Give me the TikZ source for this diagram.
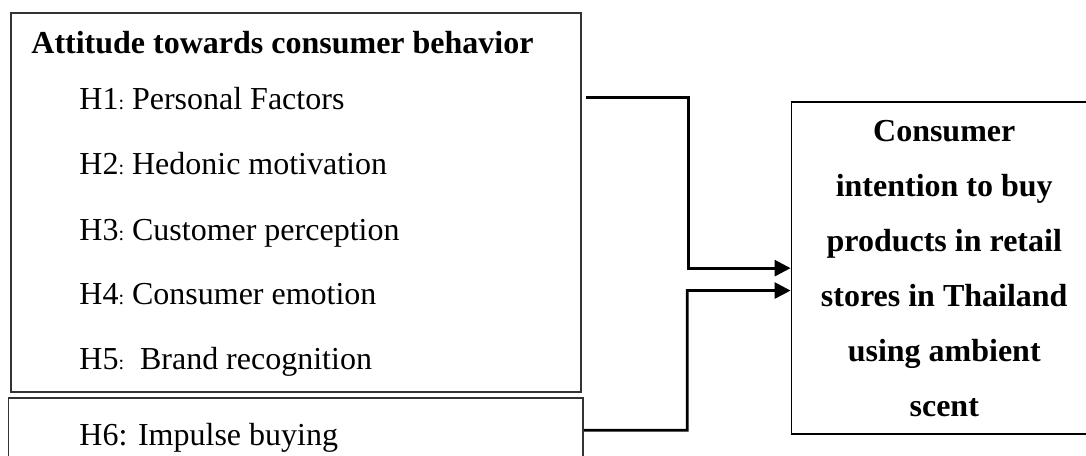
\documentclass[tikz,border=0pt]{standalone}
\usepackage{fontspec}
\setmainfont{Liberation Serif}
\usetikzlibrary{arrows.meta}
\newcommand\smcolon{{\fontsize{10}{12}\selectfont:}}
\begin{document}
\begin{tikzpicture}[x=0.5pt,y=-0.5pt,
  boxline/.style={draw=black!80, line width=0.9pt, inner sep=0pt},
  txt/.style={font=\fontsize{16}{19}\selectfont, inner sep=0pt, anchor=base west},
  conn/.style={line width=1.4pt, draw=black},
  tip/.style={-{Triangle[length=8pt,width=8pt]}}]
\useasboundingbox (0,0) rectangle (1086,455);
\clip (0,0) rectangle (1086,455);
\fill[white] (0,0) rectangle (1086,455);
% boxes
\node[boxline, minimum width=284.85pt, minimum height=189.2pt] (box1) at (295.85,202.5) {};
\node[boxline, minimum width=287.4pt, minimum height=36.15pt] (box2) at (295.9,433.85) {};
\node[boxline, draw=black, minimum width=152.75pt, minimum height=165.85pt,
      align=center, font=\fontsize{16}{27.5}\selectfont\bfseries] (box3) at (944.25,268.15)
  {Consumer\\intention to buy\\products in retail\\stores in Thailand\\using ambient\\scent};
% texts
\node[txt, font=\fontsize{16}{19}\selectfont\bfseries] (title) at (31,53) {Attitude towards consumer behavior};
\node[txt] (h1) at (79,109) {H1\smcolon\ Personal Factors};
\node[txt] (h2) at (79,174) {H2\smcolon\ Hedonic motivation};
\node[txt] (h3) at (79,240) {H3\smcolon\ Customer perception};
\node[txt] (h4) at (79,304) {H4\smcolon\ Consumer emotion};
\node[txt] (h5) at (79,369) {H5\smcolon\ \ Brand recognition};
\node[txt] (h6) at (79,445) {H6: Impulse buying};
% connectors
\coordinate (c1s) at (585.7,97.3);
\coordinate (c1k) at (688.7,97.3);
\draw[conn,tip] (c1s) -- (c1k) |- (box3.west);
\coordinate (c2k) at (687.3,430.3);
\draw[conn,tip] ([yshift=1.775pt]box2.east) -- (c2k) |- ([yshift=-11.2pt]box3.west);
\end{tikzpicture}
\end{document}
